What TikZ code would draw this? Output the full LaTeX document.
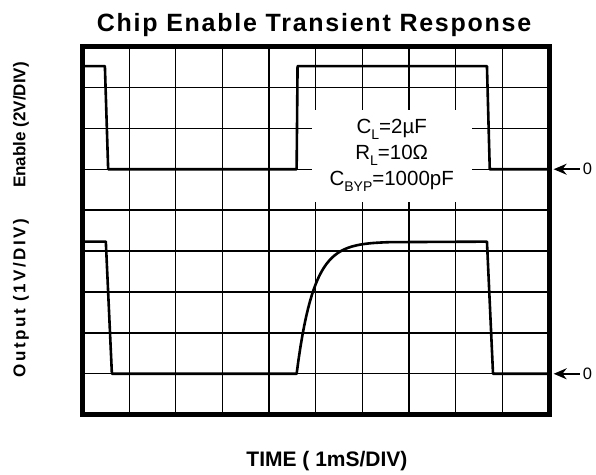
\documentclass[tikz,border=0pt]{standalone}
\usepackage{fontspec}
\setmainfont{Liberation Sans}
\usetikzlibrary{arrows.meta,positioning}

\newcommand{\lowidx}[1]{\raisebox{-0.55ex}{\fontsize{14}{14}\selectfont #1}}

\tikzset{
  gridline/.style={line width=1.3pt},
  frameline/.style={line width=5pt},
  trace/.style={line width=2.6pt, line join=round},
  axislabel/.style={font=\bfseries\fontsize{17}{17}\selectfont, rotate=90},
  zeromark/.style={font=\fontsize{16.5}{16.5}\selectfont, inner sep=1pt},
  zeroarrow/.style={-{Stealth[length=13pt,width=11pt]}, line width=1.6pt, shorten <=2pt},
}

\begin{document}
\begin{tikzpicture}[x=46.65pt, y=-40.91pt]
  \useasboundingbox (-1.7685,-1.1366) rectangle (11.0075,10.4498);
  % grid
  \foreach \i in {1,...,9} \draw[gridline] (\i,0) -- (\i,9);
  \foreach \j in {1,...,8} \draw[gridline] (0,\j) -- (10,\j);
  % test conditions
  \node[fill=white, minimum width=160pt, minimum height=92pt, align=center,
        font=\fontsize{20.5}{26}\selectfont] (cond) at (6.628,2.672)
        {C\lowidx{L}=2µF\\ R\lowidx{L}=10Ω\\ C\lowidx{BYP}=1000pF};
  % traces
  \draw[trace] (0,0.48) -- (0.48,0.48) -- (0.55,3) -- (4.59,3) -- (4.61,0.48)
               -- (8.67,0.48) -- (8.73,3) -- (10,3);
  \draw[trace] (0,4.77) -- (0.5,4.77) -- (0.63,8) -- (4.59,8)
               -- plot[domain=4.59:6.6, samples=50] (\x,{8-3.23*(1-exp(-(\x-4.59)/0.36))})
               -- (8.67,4.77) -- (8.8,8) -- (10,8);
  % frame
  \draw[frameline] (0,0) rectangle (10,9);
  % labels
  \node[font=\bfseries\fontsize{25}{25}\selectfont, anchor=base] (title) at (4.963,-0.362) {\addfontfeature{LetterSpace=7}Chip Enable Transient Response};
  \node[axislabel] (enlbl) at (-1.318,1.92) {Enable (2V/DIV)};
  \node[axislabel] (outlbl) at (-1.318,6.15) {\addfontfeature{LetterSpace=15}Output (1V/DIV)};
  \node[font=\bfseries\fontsize{21}{21}\selectfont] (timelbl) at (5.24,10.13) {TIME ( 1mS/DIV)};
  % zero markers
  \coordinate (tipEn) at (10.1,3);
  \coordinate (tipOut) at (10.1,8);
  \node[zeromark, right=28pt of tipEn] (zeroEn) {0};
  \node[zeromark, right=28pt of tipOut] (zeroOut) {0};
  \draw[zeroarrow] (zeroEn.west) -- (tipEn);
  \draw[zeroarrow] (zeroOut.west) -- (tipOut);
\end{tikzpicture}
\end{document}
